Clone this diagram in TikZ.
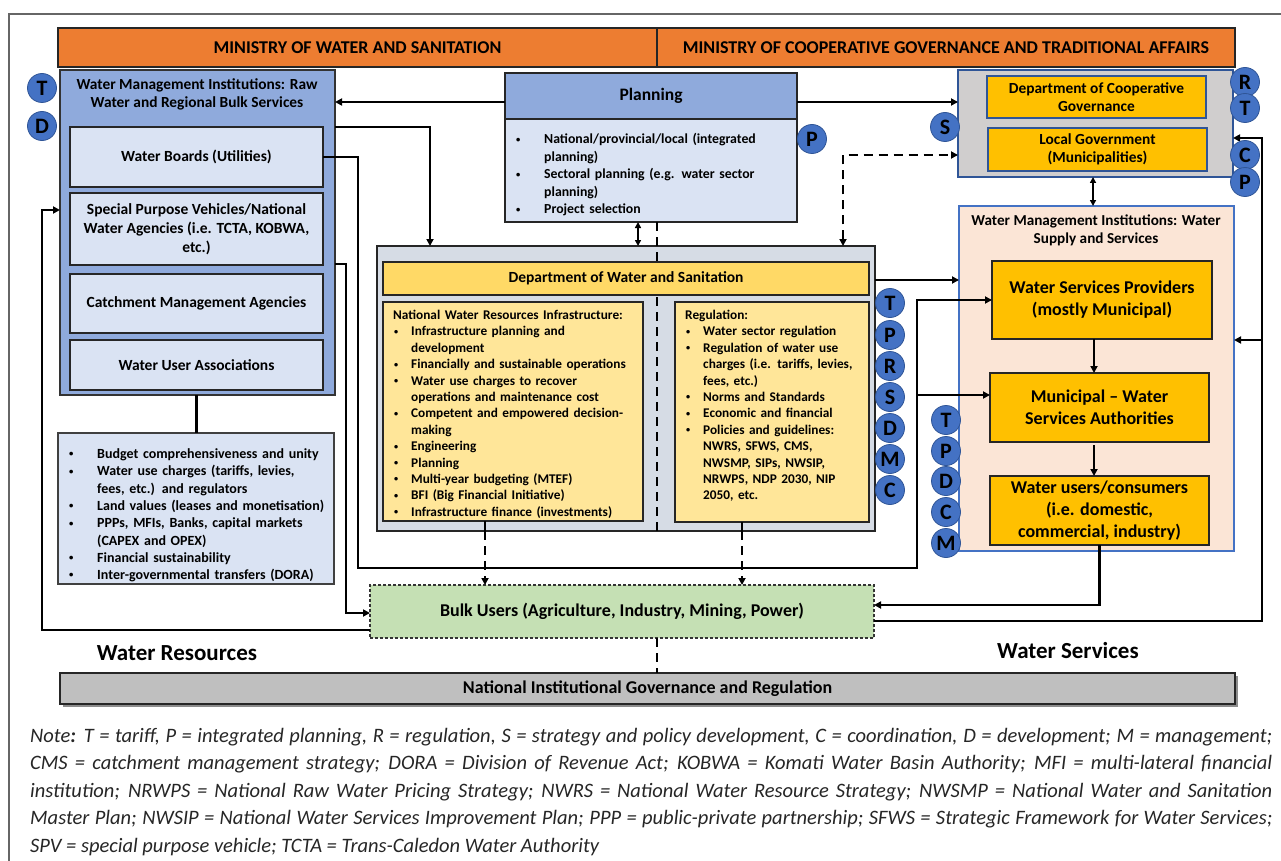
\documentclass[tikz,border=0pt]{standalone}
\usepackage{fontspec}
\setmainfont{Carlito}
\usetikzlibrary{arrows.meta}
\definecolor{orangeM}{HTML}{ED7D31}
\definecolor{blueH}{HTML}{8FAADC}
\definecolor{blueL}{HTML}{DAE3F3}
\definecolor{circB}{HTML}{4472C4}
\definecolor{circD}{HTML}{2F5597}
\definecolor{dwsO}{HTML}{D6DCE5}
\definecolor{dwsH}{HTML}{FFD966}
\definecolor{dwsI}{HTML}{FFE699}
\definecolor{gold}{HTML}{FFC000}
\definecolor{greyC}{HTML}{D0CECE}
\definecolor{peach}{HTML}{FBE5D6}
\definecolor{greenB}{HTML}{C5E0B4}
\definecolor{natG}{HTML}{BFBFBF}
\newlength\bi \newlength\bp
\newcommand\smbul{\raisebox{0.12em}{\scalebox{0.62}{\textbullet}}}
\newcommand\bl[1]{\par\hangindent=\bi\hangafter=1\noindent\makebox[\bi][l]{\hspace*{\bp}\smbul}#1}
\newcommand\bx[7]{\node[#2, minimum width={(#5)-(#3)}, minimum height={(#6)-(#4)}, inner sep=0pt, outer sep=0pt] (#1) at ({((#3)+(#5))/2},{((#4)+(#6))/2}) {#7};}
\tikzset{
  conn/.style={line width=2.4pt, -{Triangle[length=7pt,width=7pt]}},
  dconn/.style={line width=2.4pt, dash pattern=on 9pt off 6pt},
  plainline/.style={line width=2.4pt},
  circ/.style={circle, fill=circB, draw=circD, line width=0.8pt, minimum size=29pt, inner sep=0pt, font=\bfseries\fontsize{22}{22}\selectfont},
  ministry/.style={fill=orangeM, draw=black!85, line width=2pt, font=\bfseries\fontsize{18}{18}\selectfont},
  lbox/.style={fill=blueL, draw=black!85, line width=2.6pt, font=\bfseries\fontsize{15.5}{19}\selectfont, align=center},
  tx/.style={inner sep=0pt, font=\bfseries\fontsize{14}{17.3}\selectfont},
}
\begin{document}
\begin{tikzpicture}[x=1pt,y=-1pt]
\useasboundingbox (0,0) rectangle (1281,861);
\fill[white] (0,0) rectangle (1281,861);
% frame
\draw[black!60, line width=1.2pt] (1281,14) -- (9,14) -- (9,861);
% helper coordinates
\foreach \yy in {102,127,138,155,210,264,280,340,395,568,605,613,621,630}{\coordinate (h\yy) at (0,\yy);}
\foreach \xx in {42,346,358,430,485,638,657,742,843,917,1094,1093,1262}{\coordinate (v\xx) at (\xx,0);}
% ministries
\bx{minL}{ministry}{58}{28}{657}{67}{MINISTRY OF WATER AND SANITATION}
\bx{minR}{ministry}{657}{28}{1235}{67}{MINISTRY OF COOPERATIVE GOVERNANCE AND TRADITIONAL AFFAIRS}
% raw water box
\bx{raw}{fill=blueH, draw=black!80, line width=2.6pt}{60}{70}{335}{395}{}
\node[tx, align=center, font=\bfseries\fontsize{15.4}{18}\selectfont] (rawt) at (197,94) {Water Management Institutions: Raw\\Water and Regional Bulk Services};
\bx{wb}{lbox}{70}{127}{323}{187}{Water Boards (Utilities)}
\bx{spv}{lbox}{70}{193}{323}{265}{Special Purpose Vehicles/National\\Water Agencies (i.e. TCTA, KOBWA,\\etc.)}
\bx{cma}{lbox}{70}{274}{323}{333}{Catchment Management Agencies}
\bx{wua}{lbox}{70}{340}{323}{390}{Water User Associations}
% budget box
\bx{bud}{fill=blueL, draw=black!75, line width=1.8pt}{58}{433}{334}{584}{}
\draw[plainline] (wua.south |- raw.south) -- (wua.south |- bud.north);
\node[tx, anchor=north west, text width=300pt, align=left] (budt) at (58,441) {\setlength\bi{39pt}\setlength\bp{11pt}%
\bl{Budget comprehensiveness and unity}
\bl{Water use charges (tariffs, levies,\newline fees, etc.) and regulators}
\bl{Land values (leases and monetisation)}
\bl{PPPs, MFIs, Banks, capital markets\newline (CAPEX and OPEX)}
\bl{Financial sustainability}
\bl{Inter-governmental transfers (DORA)}\par};
% planning
\bx{plan}{fill=blueL, draw=black!85, line width=1.8pt}{505}{73}{797}{222}{}
\bx{planh}{fill=blueH, draw=black!85, line width=1.8pt, font=\bfseries\fontsize{17.5}{17.5}\selectfont}{505}{73}{797}{119}{Planning}
\node[tx, anchor=north west, text width=300pt, align=left, font=\bfseries\fontsize{13.8}{17.5}\selectfont] (plant) at (505,126) {\setlength\bi{39pt}\setlength\bp{11pt}%
\bl{National/provincial/local (integrated\newline planning)}
\bl{Sectoral planning (e.g. water sector\newline planning)}
\bl{Project selection}\par};
% cogta
\bx{cog}{fill=greyC, draw=circD, line width=1.5pt}{958}{70}{1233}{177}{}
\bx{dcg}{fill=gold, draw=circD, line width=1.8pt, align=center, font=\bfseries\fontsize{15.4}{18}\selectfont}{987}{76}{1206}{118}{Department of Cooperative\\Governance}
\bx{lg}{fill=gold, draw=circD, line width=1.8pt, align=center, font=\bfseries\fontsize{15.4}{18}\selectfont}{988}{128}{1207}{171}{Local Government\\(Municipalities)}
% water supply WMI
\bx{wmiw}{fill=peach, draw=circB, line width=1.3pt}{959}{206}{1234}{551}{}
\node[tx, align=center, font=\bfseries\fontsize{15.2}{18}\selectfont] (wmiwt) at (1096,230) {Water Management Institutions: Water\\Supply and Services};
\bx{wsp}{fill=gold, draw=black!85, line width=2pt, align=center, font=\bfseries\fontsize{18}{22}\selectfont}{992}{261}{1212}{339}{Water Services Providers\\(mostly Municipal)}
\bx{wsa}{fill=gold, draw=black!85, line width=2pt, align=center, font=\bfseries\fontsize{18}{22}\selectfont}{990}{373}{1209}{442}{Municipal -- Water\\Services Authorities}
\bx{wu}{fill=gold, draw=black!85, line width=2pt, align=center, font=\bfseries\fontsize{18}{22}\selectfont}{990}{476}{1209}{545}{Water users/consumers\\(i.e. domestic,\\commercial, industry)}
% DWS
\bx{dws}{fill=dwsO, draw=black!85, line width=2.2pt}{377}{246}{875}{531}{}
\draw[dconn] (v657 |- plan.south) -- (v657 |- dws.south);
\bx{dwsh}{fill=dwsH, draw=black!85, line width=2pt, font=\bfseries\fontsize{15.5}{15.5}\selectfont}{383}{262}{869}{295}{Department of Water and Sanitation}
\bx{nwri}{fill=dwsI, draw=black!85, line width=2pt}{383}{302}{643}{521}{}
\bx{reg}{fill=dwsI, draw=black!85, line width=2pt}{675}{302}{869}{522}{}
\node[tx, anchor=north west, text width=280pt, align=left, font=\bfseries\fontsize{13.3}{16.4}\selectfont] (nwrit) at (383,310) {\setlength\bi{28pt}\setlength\bp{11pt}%
\noindent\hspace*{10pt}National Water Resources Infrastructure:
\bl{Infrastructure planning and\newline development}
\bl{Financially and sustainable operations}
\bl{Water use charges to recover\newline operations and maintenance cost}
\bl{Competent and empowered decision-\newline making}
\bl{Engineering}
\bl{Planning}
\bl{Multi-year budgeting (MTEF)}
\bl{BFI (Big Financial Initiative)}
\bl{Infrastructure finance (investments)}\par};
\node[tx, anchor=north west, text width=220pt, align=left, font=\bfseries\fontsize{13.3}{16.4}\selectfont] (regt) at (675,310) {\setlength\bi{28pt}\setlength\bp{11pt}%
\noindent\hspace*{10pt}Regulation:
\bl{Water sector regulation}
\bl{Regulation of water use\newline charges (i.e. tariffs, levies,\newline fees, etc.)}
\bl{Norms and Standards}
\bl{Economic and financial}
\bl{Policies and guidelines:\newline NWRS, SFWS, CMS,\newline NWSMP, SIPs, NWSIP,\newline NRWPS, NDP 2030, NIP\newline 2050, etc.}\par};
% bulk & national
\bx{bulk}{fill=greenB, draw=black!80, line width=1.3pt, dash pattern=on 3pt off 2pt, font=\bfseries\fontsize{18}{18}\selectfont}{370}{585}{874}{638}{Bulk Users (Agriculture, Industry, Mining, Power)}
\fill[black!45] (63,676) rectangle (1238,707);
\bx{natl}{fill=natG, draw=black!85, line width=2pt, font=\bfseries\fontsize{18}{18}\selectfont}{60}{673}{1235}{704}{National Institutional Governance and Regulation}
\draw[dconn] (v657 |- bulk.south) -- (v657 |- natl.north);
\node[tx, font=\bfseries\fontsize{23}{23}\selectfont] (wres) at (177,653) {Water Resources};
\node[tx, font=\bfseries\fontsize{23}{23}\selectfont] (wser) at (1068,651) {Water Services};
% connectors
\draw[conn] (planh.west |- h102) -- (raw.east |- h102);
\draw[conn] (raw.east |- h127) -| (v430 |- dws.north);
\draw[conn] (planh.east |- h102) -- (cog.west |- h102);
\draw[plainline, {Triangle[length=6pt,width=6pt]}-{Triangle[length=6pt,width=6pt]}] (v638 |- plan.south) -- (v638 |- dws.north);
\draw[dconn, {Triangle[length=7pt,width=7pt]}-{Triangle[length=7pt,width=7pt]}] (v843 |- dws.north) -- (v843 |- h155) -- (cog.west |- h155);
\draw[plainline, {Triangle[length=6pt,width=6pt]}-{Triangle[length=6pt,width=6pt]}] (v1093 |- cog.south) -- (v1093 |- wmiw.north);
\draw[conn] (dws.east |- h280) -- (wmiw.west |- h280);
\draw[conn] (wb.east) -- (v358 |- wb.east) -- (v358 |- h568) -- (v917 |- h568) -- (v917 |- wsp.west) -- (wsp.west);
\draw[conn] (v917 |- h395) -- (wsa.west |- h395);
\draw[conn] (raw.east |- h264) -- (v346 |- h264) -- (v346 |- h613) -- (bulk.west |- h613);
\draw[conn] (bulk.west |- h630) -- (v42 |- h630) -- (v42 |- h210) -- (raw.west |- h210);
\draw[plainline] (v485 |- nwri.south) -- (v485 |- dws.south);
\draw[dconn, -{Triangle[length=7pt,width=7pt]}] (v485 |- dws.south) -- (v485 |- bulk.north);
\draw[plainline] (v742 |- reg.south) -- (v742 |- dws.south);
\draw[dconn, -{Triangle[length=7pt,width=7pt]}] (v742 |- dws.south) -- (v742 |- bulk.north);
\draw[conn] (v1094 |- wsp.south) -- (v1094 |- wsa.north);
\draw[conn] ([yshift=-3pt]v1094 |- wsa.south) -- (v1094 |- wu.north);
\draw[conn] (wu.south) -- (wu.south |- h605) -- (bulk.east |- h605);
\draw[conn] (bulk.east |- h621) -- (v1262 |- h621) -- (v1262 |- h138) -- (cog.east |- h138);
\draw[conn] (v1262 |- h340) -- (wmiw.east |- h340);
% circles
\node[circ] (c1) at (42,88) {T};
\node[circ] (c2) at (42,126) {D};
\node[circ] (c3) at (812,139) {P};
\node[circ] (c4) at (945,127) {S};
\node[circ] (c5) at (1245,82) {R};
\node[circ] (c6) at (1245,108) {T};
\node[circ] (c7) at (1245,155) {C};
\node[circ] (c8) at (1245,182) {P};
\node[circ] (d1) at (890,303) {T};
\node[circ] (d2) at (890,335) {P};
\node[circ] (d3) at (890,366) {R};
\node[circ] (d4) at (890,397) {S};
\node[circ] (d5) at (890,428) {D};
\node[circ] (d6) at (890,459) {M};
\node[circ] (d7) at (890,490) {C};
\node[circ] (e1) at (946,420) {T};
\node[circ] (e2) at (946,451) {P};
\node[circ] (e3) at (946,481) {D};
\node[circ] (e4) at (946,512) {C};
\node[circ] (e5) at (946,543) {M};
% note
\begin{scope}[every node/.style={anchor=west, inner sep=0pt, text=black!85, font=\itshape\fontsize{20.5}{22}\selectfont}]
\node (n1) at (30,737) {\makebox[1242pt][s]{Note\textbf{:} T = tariff, P = integrated planning, R = regulation, S = strategy and policy development, C = coordination, D = development; M = management;}};
\node (n2) at (30,764.5) {\makebox[1242pt][s]{CMS = catchment management strategy; DORA = Division of Revenue Act; KOBWA = Komati Water Basin Authority; MFI = multi-lateral financial}};
\node (n3) at (30,792) {\makebox[1242pt][s]{institution; NRWPS = National Raw Water Pricing Strategy; NWRS = National Water Resource Strategy; NWSMP = National Water and Sanitation}};
\node (n4) at (30,819.5) {\makebox[1242pt][s]{Master Plan; NWSIP = National Water Services Improvement Plan; PPP = public-private partnership; SFWS = Strategic Framework for Water Services;}};
\node (n5) at (30,847) {SPV = special purpose vehicle; TCTA = Trans-Caledon Water Authority};
\end{scope}
\end{tikzpicture}
\end{document}
